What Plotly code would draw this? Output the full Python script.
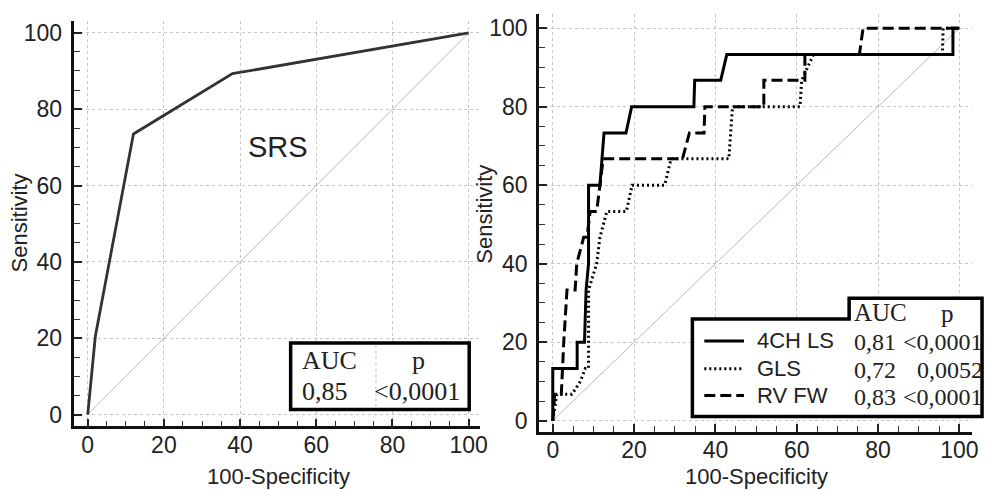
import plotly.graph_objects as go

# ---------------- data ----------------
srs_x = [0, 2, 12, 38, 100]
srs_y = [0, 20.5, 73.5, 89.3, 100]
srs_auc = "0,85"
srs_p = "<0,0001"

ls4_x = [0, 0, 6, 6, 7.8, 8.2, 8.8, 8.8, 11.6, 12.6, 18, 19.4, 34.7, 34.9, 41.3, 42.8, 98.4, 98.4, 100]
ls4_y = [0, 13.3, 13.3, 20, 20, 33.3, 40, 60, 60, 73.3, 73.3, 80, 80, 86.7, 86.7, 93.3, 93.3, 100, 100]

gls_x = [0, 1, 4.7, 6.8, 8, 8.8, 8.8, 10.8, 11.6, 13.3, 18.1, 19.5, 27.5, 29.1, 43.3, 44.2, 60.8, 61.2, 64.1, 95.8, 96, 100]
gls_y = [0, 6.7, 6.7, 10, 13.3, 13.3, 33.3, 40, 46.7, 53.3, 53.3, 60, 60, 66.7, 66.7, 80, 80, 86.7, 93.3, 93.3, 100, 100]

rv_x = [0, 0.5, 2.1, 2.7, 3.5, 5.5, 5.9, 7.6, 8.4, 9.2, 10.8, 11.6, 12.4, 31.9, 33.6, 37.2, 37.4, 51.9, 51.9, 62, 62, 75.4, 76.3, 100]
rv_y = [0, 6.7, 6.7, 20, 33.3, 33.3, 40, 46.7, 46.7, 53.3, 53.3, 60, 66.7, 66.7, 73.3, 73.3, 80, 80, 86.7, 86.7, 93.3, 93.3, 100, 100]

names = ["4CH LS", "GLS", "RV FW"]
aucs = ["0,81", "0,72", "0,83"]
pvals = ["<0,0001", "0,0052", "<0,0001"]
dashes = ["solid", "2px,3px", "11px,5px"]

diag = [0, 100]
tickvals = [0, 20, 40, 60, 80, 100]

W, H = 996, 490
def fx(px): return px / W
def fy(py): return 1 - py / H

SANS = "Liberation Sans, Arial, sans-serif"
SERIF = "Liberation Serif, Times New Roman, serif"
TXT = "#222222"

fig = go.Figure()

# left panel
fig.add_trace(go.Scatter(x=diag, y=diag, mode="lines", line=dict(color="#c9b3b3", width=1),
                         xaxis="x", yaxis="y", showlegend=False, hoverinfo="skip"))
fig.add_trace(go.Scatter(x=srs_x, y=srs_y, mode="lines", line=dict(color="#333333", width=2.8),
                         xaxis="x", yaxis="y", showlegend=False, name="SRS"))

# right panel
fig.add_trace(go.Scatter(x=diag, y=diag, mode="lines", line=dict(color="#c9b3b3", width=1),
                         xaxis="x2", yaxis="y2", showlegend=False, hoverinfo="skip"))
series = [(ls4_x, ls4_y), (gls_x, gls_y), (rv_x, rv_y)]
for (sx, sy), nm, ds in zip(series, names, dashes):
    fig.add_trace(go.Scatter(x=sx, y=sy, mode="lines", name=nm,
                             line=dict(color="black", width=3, dash=ds),
                             xaxis="x2", yaxis="y2", showlegend=False))

def axis_common(standoff):
    return dict(
        tickvals=tickvals, ticks="inside", ticklen=8, tickwidth=1.5, tickcolor="#222",
        showline=True, linecolor="#111", linewidth=2.5, mirror=False,
        showgrid=True, gridcolor="#c4c4c4", griddash="dot", gridwidth=1,
        zeroline=False, tickfont=dict(family=SANS, size=23, color=TXT),
        ticklabelstandoff=standoff, fixedrange=True,
        minor=dict(dtick=5, tick0=0, ticks="inside", ticklen=6, tickcolor="#333", tickwidth=1, showgrid=False),
    )

fig.update_layout(
    width=W, height=H, margin=dict(l=0, r=0, t=0, b=0),
    paper_bgcolor="white", plot_bgcolor="white",
    xaxis=dict(domain=[fx(75), fx(484)], range=[-3.5, 103], anchor="y", **axis_common(-4)),
    yaxis=dict(domain=[fy(428), fy(20.5)], range=[-3.1, 103], anchor="x", **axis_common(5)),
    xaxis2=dict(domain=[fx(543.3), fx(979.5)], range=[-3.4, 103], anchor="y2", **axis_common(-4)),
    yaxis2=dict(domain=[fy(433.3), fy(13.1)], range=[-2.8, 103.6], anchor="x2", **axis_common(4)),
)

shapes = []
annots = []

# axis titles
for x, y, t, ang in [(fx(20), fy(223), "Sensitivity", -90), (fx(281), fy(478), "100-Specificity", 0),
                     (fx(489), fy(215), "Sensitivity", -90), (fx(763), fy(478), "100-Specificity", 0)]:
    annots.append(dict(x=x, y=y, xref="paper", yref="paper", text=t, showarrow=False, textangle=ang,
                       font=dict(family=SANS, size=22, color=TXT), xanchor="center", yanchor="middle"))

# SRS label
annots.append(dict(x=fx(280), y=fy(147), xref="paper", yref="paper", text="SRS", showarrow=False,
                   font=dict(family=SANS, size=29, color=TXT), xanchor="center", yanchor="middle"))

# left table box
shapes.append(dict(type="rect", xref="paper", yref="paper", x0=fx(293), x1=fx(473), y0=fy(411), y1=fy(344),
                   line=dict(color="black", width=3.5), fillcolor="white", layer="above"))
shapes.append(dict(type="line", xref="paper", yref="paper", x0=fx(379), x1=fx(379), y0=fy(409), y1=fy(346),
                   line=dict(color="#c4c4c4", width=1, dash="dot"), layer="above"))
for x, y, t, anc in [(302, 362, "AUC", "left"), (422, 362, "p", "center"),
                     (302, 393, srs_auc, "left"), (466, 393, srs_p, "right")]:
    annots.append(dict(x=fx(x), y=fy(y), xref="paper", yref="paper", text=t, showarrow=False,
                       font=dict(family=SERIF, size=26, color=TXT), xanchor=anc, yanchor="middle"))

# right legend/table box (notched)
path = "M {a},{b} L {c},{b} L {c},{d} L {e},{d} L {e},{f} L {a},{f} Z".format(
    a=fx(698), b=fy(320), c=fx(856), d=fy(299), e=fx(990), f=fy(418))
shapes.append(dict(type="path", xref="paper", yref="paper", path=path,
                   line=dict(color="black", width=3.5), fillcolor="white", layer="above"))
annots.append(dict(x=fx(859), y=fy(313), xref="paper", yref="paper", text="AUC", showarrow=False,
                   font=dict(family=SERIF, size=25, color=TXT), xanchor="left", yanchor="middle"))
annots.append(dict(x=fx(955), y=fy(314), xref="paper", yref="paper", text="p", showarrow=False,
                   font=dict(family=SERIF, size=25, color=TXT), xanchor="center", yanchor="middle"))
row_y = [342, 370, 397]
for ry, nm, au, pv, ds in zip(row_y, names, aucs, pvals, dashes):
    shapes.append(dict(type="line", xref="paper", yref="paper", x0=fx(710), x1=fx(750), y0=fy(ry), y1=fy(ry),
                       line=dict(color="black", width=3, dash=ds), layer="above"))
    annots.append(dict(x=fx(761), y=fy(ry), xref="paper", yref="paper", text=nm, showarrow=False,
                       font=dict(family=SANS, size=22, color=TXT), xanchor="left", yanchor="middle"))
    annots.append(dict(x=fx(859), y=fy(ry + 1), xref="paper", yref="paper", text=au, showarrow=False,
                       font=dict(family=SERIF, size=24, color=TXT), xanchor="left", yanchor="middle"))
    annots.append(dict(x=fx(993), y=fy(ry + 1), xref="paper", yref="paper", text=pv, showarrow=False,
                       font=dict(family=SERIF, size=24, color=TXT), xanchor="right", yanchor="middle"))

fig.update_layout(shapes=shapes, annotations=annots)
fig.write_html("out.html")
